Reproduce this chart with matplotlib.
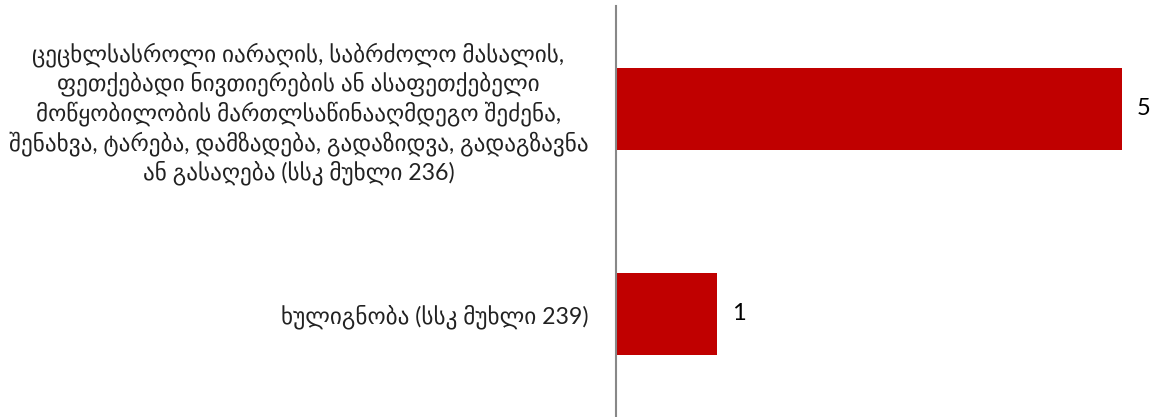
import matplotlib
matplotlib.use("Agg")
import matplotlib.pyplot as plt

plt.rcParams['font.family'] = ['Lato', 'DejaVu Sans']

categories = [
    "ცეცხლსასროლი იარაღის, საბრძოლო მასალის,\nფეთქებადი ნივთიერების ან ასაფეთქებელი\nმოწყობილობის მართლსაწინააღმდეგო შეძენა,\nშენახვა, ტარება, დამზადება, გადაზიდვა, გადაგზავნა\nან გასაღება (სსკ მუხლი 236)",
    "ხულიგნობა (სსკ მუხლი 239)",
]
values = [5, 1]

fig = plt.figure(figsize=(11.58, 4.17), dpi=100)
unit = (1123 - 617) / 5
ax = fig.add_axes([616/1158, 1/417, (1157-616)/1158, 410/417])

ypos = list(range(len(categories)))
ax.barh(ypos, values, height=0.4, color='#C00000')
ax.set_ylim(1.5, -0.5)
ax.set_xlim(0, (1157 - 616) / unit)
ax.set_yticks(ypos)
ax.set_yticklabels(categories, fontsize=16.7, color='#222222',
                   multialignment='center', linespacing=1.25)
ax.tick_params(axis='y', length=0, pad=20)
ax.set_xticks([])
for s in ['top', 'right', 'bottom']:
    ax.spines[s].set_visible(False)
ax.spines['left'].set_color('#888888')
ax.spines['left'].set_linewidth(1.5)

for y, v in zip(ypos, values):
    ax.text(v + 0.15, y, str(v), va='center', ha='left', fontsize=17, color='black')

fig.savefig('out.png', dpi=100)
